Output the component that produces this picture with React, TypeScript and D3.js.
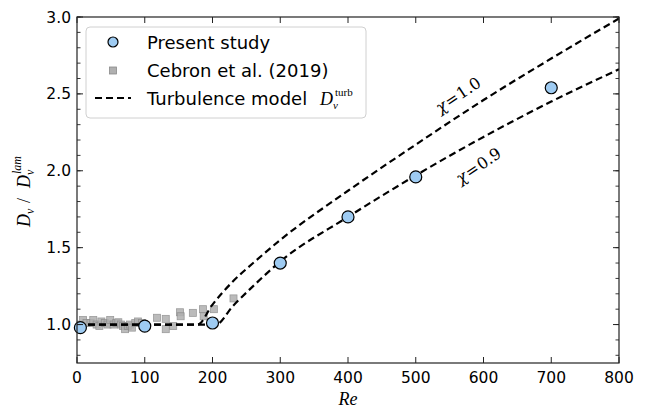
import React from "react";
import * as d3 from "d3";

// ---- data ----
const presentRe = [5, 100, 200, 300, 400, 500, 700];
const presentD = [0.98, 0.99, 1.01, 1.40, 1.70, 1.96, 2.54];

const cebronRe = [2, 5, 9, 14, 20, 24, 29, 33, 36, 41, 45, 49, 54, 58, 61, 65, 68, 71, 75, 78, 81, 86, 90, 96, 118, 131, 131, 142, 152, 153, 171, 186, 187, 202, 231];
const cebronD = [1.0, 0.98, 1.03, 1.01, 1.01, 1.03, 1.0, 0.99, 1.02, 1.01, 1.0, 1.03, 1.0, 1.01, 1.015, 1.0, 0.99, 0.97, 0.99, 1.0, 0.98, 1.01, 1.02, 1.01, 1.044, 1.037, 0.97, 0.99, 1.08, 1.054, 1.076, 1.10, 1.054, 1.10, 1.17];

const chi10Re = [0, 178, 200, 230, 260, 300, 400, 500, 600, 700, 800];
const chi10D = [1.0, 1.0, 1.13, 1.28, 1.40, 1.55, 1.87, 2.17, 2.46, 2.73, 2.99];
const chi09Re = [0, 205, 230, 260, 300, 400, 500, 600, 700, 800];
const chi09D = [1.0, 1.0, 1.12, 1.25, 1.41, 1.70, 1.97, 2.22, 2.45, 2.66];

const xTicks = [0, 100, 200, 300, 400, 500, 600, 700, 800];
const yTicks = [1.0, 1.5, 2.0, 2.5, 3.0];
const yMinor = d3.range(8, 31).map((v) => v / 10);

const W = 647, H = 409;
const L = 77, R = 619, T = 17, B = 363;

export default function App() {
  const x = d3.scaleLinear().domain([0, 800]).range([L, R]);
  const y = d3.scaleLinear().domain([0.75, 3.0]).range([B, T]);
  const line = d3
    .line<[number, number]>()
    .x((d) => x(d[0]))
    .y((d) => y(d[1]))
    .curve(d3.curveMonotoneX);
  const c10 = line(chi10Re.map((r, i) => [r, chi10D[i]]) as [number, number][]) || "";
  const c09 = line(chi09Re.map((r, i) => [r, chi09D[i]]) as [number, number][]) || "";
  const axisCol = "#222";
  const serif = "'Liberation Serif', 'DejaVu Serif', serif";
  const mserif = "'DejaVu Serif', serif";
  const sans = "'DejaVu Sans', sans-serif";
  const sq = 7;

  // annotation anchor positions (data coords)
  const a10 = { x: x(563), y: y(2.49) };
  const a09 = { x: x(593), y: y(2.03) };

  return (
    <svg width={W} height={H} style={{ position: "absolute", left: 0, top: 0, background: "#fff" }}>
      <defs>
        <clipPath id="plot">
          <rect x={L} y={T} width={R - L} height={B - T} />
        </clipPath>
      </defs>
      <rect x={0} y={0} width={W} height={H} fill="#fff" />
      <g clipPath="url(#plot)">
        {cebronRe.map((r, i) => (
          <rect
            key={"c" + i}
            x={x(r) - sq / 2}
            y={y(cebronD[i]) - sq / 2}
            width={sq}
            height={sq}
            fill="#b0b0b0"
            stroke="#8a8a8a"
            strokeWidth={0.8}
            opacity={0.85}
          />
        ))}
        <path d={c10} fill="none" stroke="#000" strokeWidth={2.2} strokeDasharray="7,4" />
        <path d={c09} fill="none" stroke="#000" strokeWidth={2.2} strokeDasharray="7,4" />
      </g>
      {presentRe.map((r, i) => (
        <circle key={"p" + i} cx={x(r)} cy={y(presentD[i])} r={6} fill="#9ecbf2" stroke="#000" strokeWidth={1.2} />
      ))}

      {/* annotations */}
      <g transform={`translate(${a10.x},${a10.y}) rotate(-34)`}>
        <text x={0} y={5} fontFamily={mserif} fontSize={16} textAnchor="middle" fill="#000">
          <tspan fontStyle="italic">χ</tspan>
          <tspan dx={1}>=</tspan>
          <tspan dx={1}>1.0</tspan>
        </text>
      </g>
      <g transform={`translate(${a09.x},${a09.y}) rotate(-34)`}>
        <text x={0} y={5} fontFamily={mserif} fontSize={16} textAnchor="middle" fill="#000">
          <tspan fontStyle="italic">χ</tspan>
          <tspan dx={1}>=</tspan>
          <tspan dx={1}>0.9</tspan>
        </text>
      </g>

      {/* axes frame */}
      <rect x={L} y={T} width={R - L} height={B - T} fill="none" stroke={axisCol} strokeWidth={1.2} />
      {xTicks.map((t) => (
        <g key={"xt" + t}>
          <line x1={x(t)} x2={x(t)} y1={B} y2={B - 6} stroke={axisCol} strokeWidth={1} />
          <line x1={x(t)} x2={x(t)} y1={T} y2={T + 6} stroke={axisCol} strokeWidth={1} />
          <text x={x(t)} y={383} fontFamily={sans} fontSize={15.5} textAnchor="middle" fill="#000">
            {t}
          </text>
        </g>
      ))}
      {yMinor.map((t) => (
        <g key={"ym" + t}>
          <line x1={L} x2={L + 3.5} y1={y(t)} y2={y(t)} stroke={axisCol} strokeWidth={0.9} />
          <line x1={R} x2={R - 3.5} y1={y(t)} y2={y(t)} stroke={axisCol} strokeWidth={0.9} />
        </g>
      ))}
      {yTicks.map((t) => (
        <g key={"yt" + t}>
          <line x1={L} x2={L + 6} y1={y(t)} y2={y(t)} stroke={axisCol} strokeWidth={1} />
          <line x1={R} x2={R - 6} y1={y(t)} y2={y(t)} stroke={axisCol} strokeWidth={1} />
          <text x={L - 6} y={y(t) + 5.5} fontFamily={sans} fontSize={15.5} textAnchor="end" fill="#000">
            {t.toFixed(1)}
          </text>
        </g>
      ))}

      {/* axis labels */}
      <text x={(L + R) / 2} y={405} fontFamily={serif} fontStyle="italic" fontSize={18} textAnchor="middle" fill="#000">
        Re
      </text>
      <g transform={`translate(30, ${(T + B) / 2}) rotate(-90)`} fontFamily={serif} fill="#000">
        <text x={-37} y={0} fontSize={18} fontStyle="italic">D</text>
        <text x={-24} y={4} fontSize={12} fontStyle="italic">ν</text>
        <text x={-13} y={0} fontSize={18}>/</text>
        <text x={2} y={0} fontSize={18} fontStyle="italic">D</text>
        <text x={15} y={4} fontSize={12} fontStyle="italic">ν</text>
        <text x={16} y={-9} fontSize={12} fontStyle="italic">lam</text>
      </g>

      {/* legend */}
      <rect x={86} y={27} width={280} height={91} rx={4} fill="#fff" fillOpacity={0.85} stroke="#d0d0d0" strokeWidth={1} />
      <circle cx={113} cy={42} r={5} fill="#9ecbf2" stroke="#000" strokeWidth={1.2} />
      <text x={147} y={48.5} fontFamily={sans} fontSize={18} fill="#000">Present study</text>
      <rect x={113 - sq / 2} y={70.5 - sq / 2} width={sq} height={sq} fill="#b0b0b0" stroke="#8a8a8a" strokeWidth={0.8} />
      <text x={147} y={77} fontFamily={sans} fontSize={18} fill="#000">Cebron et al. (2019)</text>
      <line x1={95} x2={131} y1={98} y2={98} stroke="#000" strokeWidth={2.2} strokeDasharray="7,4" />
      <text x={147} y={104.5} fontFamily={sans} fontSize={18} fill="#000">Turbulence model</text>
      <text x={320} y={104.5} fontFamily={serif} fontSize={18} fontStyle="italic" fill="#000">D</text>
      <text x={333} y={109} fontFamily={serif} fontSize={11} fontStyle="italic" fill="#000">ν</text>
      <text x={335} y={96} fontFamily={serif} fontSize={11} fill="#000">turb</text>
    </svg>
  );
}
